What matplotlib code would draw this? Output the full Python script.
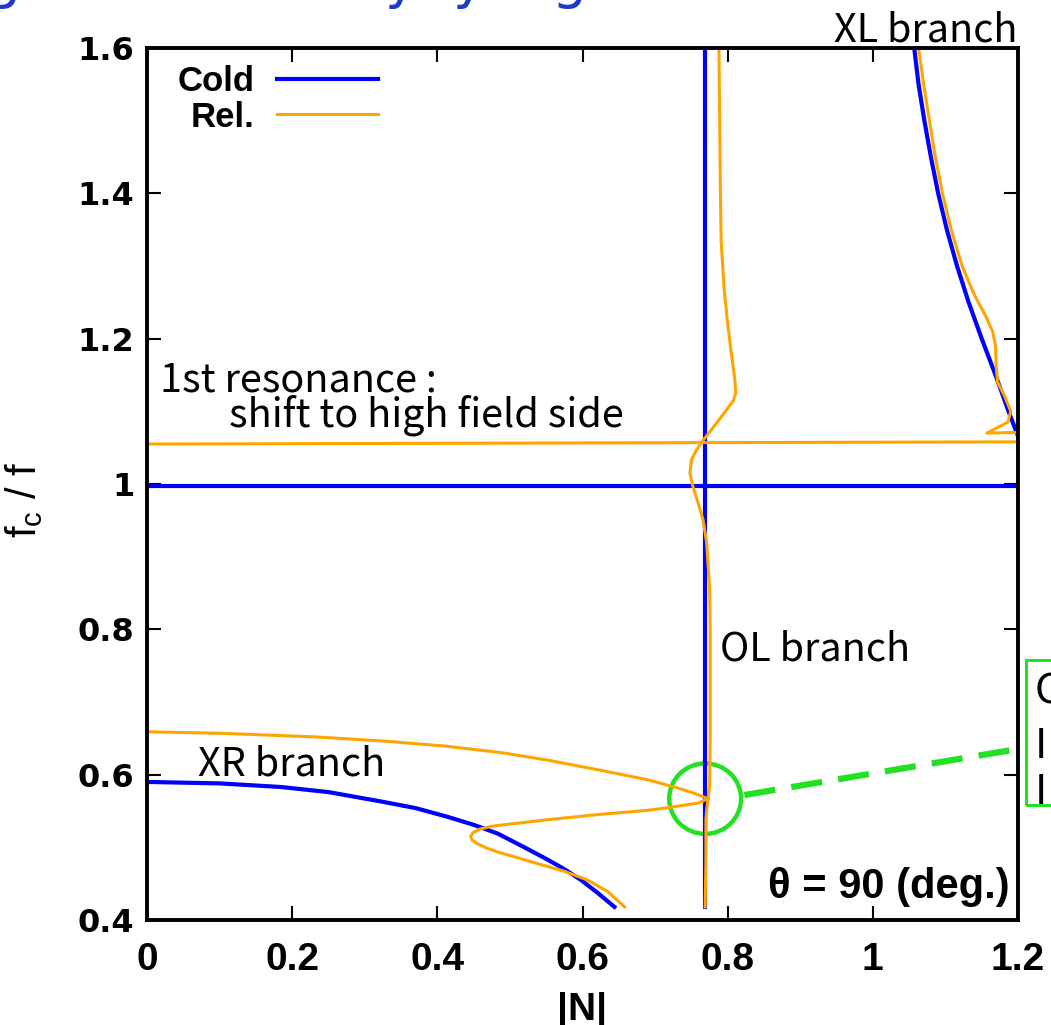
import matplotlib
matplotlib.use("Agg")
import matplotlib.pyplot as plt
from matplotlib.patches import Ellipse, Rectangle
from matplotlib.lines import Line2D

# ---- values (|N|, fc/f) ----
cold_xr_n = [0.0, 0.10, 0.185, 0.25, 0.323, 0.37, 0.414, 0.45, 0.483, 0.52, 0.552, 0.575, 0.598, 0.62, 0.644]
cold_xr_f = [0.590, 0.588, 0.583, 0.576, 0.563, 0.554, 0.542, 0.531, 0.519, 0.500, 0.483, 0.470, 0.455, 0.438, 0.418]

cold_ol_n = [0.769, 0.769]
cold_ol_f = [0.418, 1.6]

cold_res_n = [0.0, 1.2]
cold_res_f = [0.997, 0.997]

cold_xl_n = [1.057, 1.063, 1.071, 1.080, 1.090, 1.102, 1.116, 1.132, 1.150, 1.169, 1.187, 1.2]
cold_xl_f = [1.6, 1.55, 1.5, 1.45, 1.4, 1.35, 1.3, 1.25, 1.2, 1.15, 1.1, 1.066]

rel_xr_up_n = [0.0, 0.10, 0.231, 0.33, 0.414, 0.49, 0.552, 0.62, 0.69, 0.73, 0.755, 0.773]
rel_xr_up_f = [0.659, 0.657, 0.652, 0.646, 0.639, 0.630, 0.620, 0.607, 0.593, 0.582, 0.574, 0.567]

rel_xr_lo_n = [0.773, 0.76, 0.72, 0.69, 0.62, 0.552, 0.50, 0.475, 0.458, 0.449, 0.446, 0.448, 0.455,
               0.468, 0.485, 0.506, 0.54, 0.575, 0.607, 0.635, 0.658]
rel_xr_lo_f = [0.567, 0.561, 0.555, 0.551, 0.545, 0.538, 0.532, 0.529, 0.525, 0.520, 0.515, 0.510, 0.505,
               0.499, 0.493, 0.487, 0.477, 0.467, 0.455, 0.439, 0.418]

rel_ol_n = [0.788, 0.789, 0.790, 0.791, 0.795, 0.800, 0.805, 0.810, 0.811, 0.808, 0.797, 0.784, 0.774, 0.766, 0.756,
            0.750, 0.748, 0.752, 0.759, 0.766, 0.771, 0.775, 0.776, 0.776, 0.776, 0.775, 0.773, 0.771, 0.770, 0.770, 0.769]
rel_ol_f = [1.6, 1.5, 1.4, 1.335, 1.27, 1.221, 1.18, 1.143, 1.125, 1.115, 1.10, 1.083, 1.07, 1.060, 1.045,
            1.033, 1.015, 0.997, 0.975, 0.951, 0.92, 0.859, 0.80, 0.721, 0.65, 0.583, 0.567, 0.55, 0.538, 0.48, 0.418]

rel_res_n = [0.0, 1.2]
rel_res_f = [1.055, 1.058]

rel_xl_n = [1.063, 1.070, 1.078, 1.086, 1.096, 1.108, 1.123, 1.140, 1.156, 1.165, 1.169, 1.170, 1.172,
            1.182, 1.190, 1.186, 1.157, 1.200]
rel_xl_f = [1.6, 1.55, 1.5, 1.45, 1.4, 1.35, 1.3, 1.26, 1.23, 1.21, 1.19, 1.16, 1.14,
            1.12, 1.10, 1.085, 1.070, 1.071]

xticks = [0, 0.2, 0.4, 0.6, 0.8, 1.0, 1.2]
xtick_labels = ["0", "0.2", "0.4", "0.6", "0.8", "1", "1.2"]
yticks = [0.4, 0.6, 0.8, 1.0, 1.2, 1.4, 1.6]
ytick_labels = ["0.4", "0.6", "0.8", "1", "1.2", "1.4", "1.6"]

BLUE = "#0000ff"
ORANGE = "#ffa500"
GREEN = "#22e022"
TITLE_BLUE = "#1c3cc8"
JP = ["Noto Sans CJK JP", "DejaVu Sans"]
LIB = "Liberation Sans"

W, H = 1051, 1025
fig = plt.figure(figsize=(W / 100, H / 100), dpi=100)
ax = fig.add_axes([147 / W, 1 - 920 / H, 871 / W, 872 / H])

# cold plasma
ax.plot(cold_xr_n, cold_xr_f, color=BLUE, lw=3.0, label="Cold")
ax.plot(cold_ol_n, cold_ol_f, color=BLUE, lw=3.0)
ax.plot(cold_res_n, cold_res_f, color=BLUE, lw=3.0)
ax.plot(cold_xl_n, cold_xl_f, color=BLUE, lw=3.0)
# relativistic
ax.plot(rel_xr_up_n, rel_xr_up_f, color=ORANGE, lw=2.2, label="Rel.")
ax.plot(rel_xr_lo_n, rel_xr_lo_f, color=ORANGE, lw=2.2)
ax.plot(rel_ol_n, rel_ol_f, color=ORANGE, lw=2.2)
ax.plot(rel_res_n, rel_res_f, color=ORANGE, lw=2.2)
ax.plot(rel_xl_n, rel_xl_f, color=ORANGE, lw=2.2)

ax.set_xlim(0, 1.2)
ax.set_ylim(0.4, 1.6)
ax.set_xticks(xticks)
ax.set_xticklabels(xtick_labels, family=LIB, fontweight="bold", fontsize=28)
ax.set_yticks(yticks)
ax.set_yticklabels(ytick_labels, family="DejaVu Sans", fontweight="bold", fontsize=23)
ax.tick_params(direction="in", length=10, width=1.5, top=True, right=True)
ax.tick_params(axis="x", pad=16)
ax.tick_params(axis="y", pad=9)
for s in ax.spines.values():
    s.set_linewidth(2.8)

ax.set_xlabel("|N|", family=LIB, fontweight="bold", fontsize=28, labelpad=10)
ax.set_ylabel(r"f$_\mathregular{c}$ / f", family=LIB, fontsize=30)
ax.yaxis.set_label_coords(-0.117, 0.482)

leg = ax.legend(loc="upper left", bbox_to_anchor=(0.035, 0.980), frameon=False,
                markerfirst=False, handlelength=2.9, handletextpad=0.65, labelspacing=0.06,
                borderpad=0, borderaxespad=0,
                prop={"family": LIB, "weight": "bold", "size": 25})

# annotations (baselines)
ax.text(1.2, 1.6085, "XL branch", family=JP, fontsize=28.5, ha="right", va="baseline", clip_on=False)
ax.text(0.018, 1.1268, "1st resonance :", family=JP, fontsize=28.5, va="baseline")
ax.text(0.113, 1.0786, "shift to high field side", family=JP, fontsize=28.5, va="baseline")
ax.text(0.790, 0.7565, "OL branch", family=JP, fontsize=28.5, va="baseline")
ax.text(0.070, 0.5982, "XR branch", family=JP, fontsize=28.5, va="baseline")
ax.text(1.188, 0.445, "θ = 90 (deg.)", family=LIB, fontweight="bold", fontsize=30,
        ha="right", va="center")

# green callout (circle, dashed leader, cut-off box)
ax.add_patch(Ellipse((0.769, 0.567), 0.099, 0.097, fill=False, ec=GREEN, lw=3.2, clip_on=False))
ax.add_line(Line2D([0.823, 1.21], [0.572, 0.637], color=GREEN, lw=4.5,
                   dashes=(5, 2.6), clip_on=False))
fig.patches.append(Rectangle((1026 / W, 1 - 805 / H), 60 / W, 145 / H, transform=fig.transFigure,
                             fill=False, ec=GREEN, lw=2.2))
for txt, py in [("Coupling", 703), ("I  of", 758), ("I  at", 803)]:
    fig.text(1035 / W, 1 - py / H, txt, family=JP, fontsize=30, va="baseline")

# cut-off slide title (only descenders visible)
for ch, px in [("g", -14), ("y", 384), ("y", 452), ("g", 552)]:
    fig.text(px / W, 1 + 3 / H, ch, color=TITLE_BLUE, fontsize=40, family="DejaVu Sans",
             va="baseline")

fig.savefig("out.png", dpi=100)
